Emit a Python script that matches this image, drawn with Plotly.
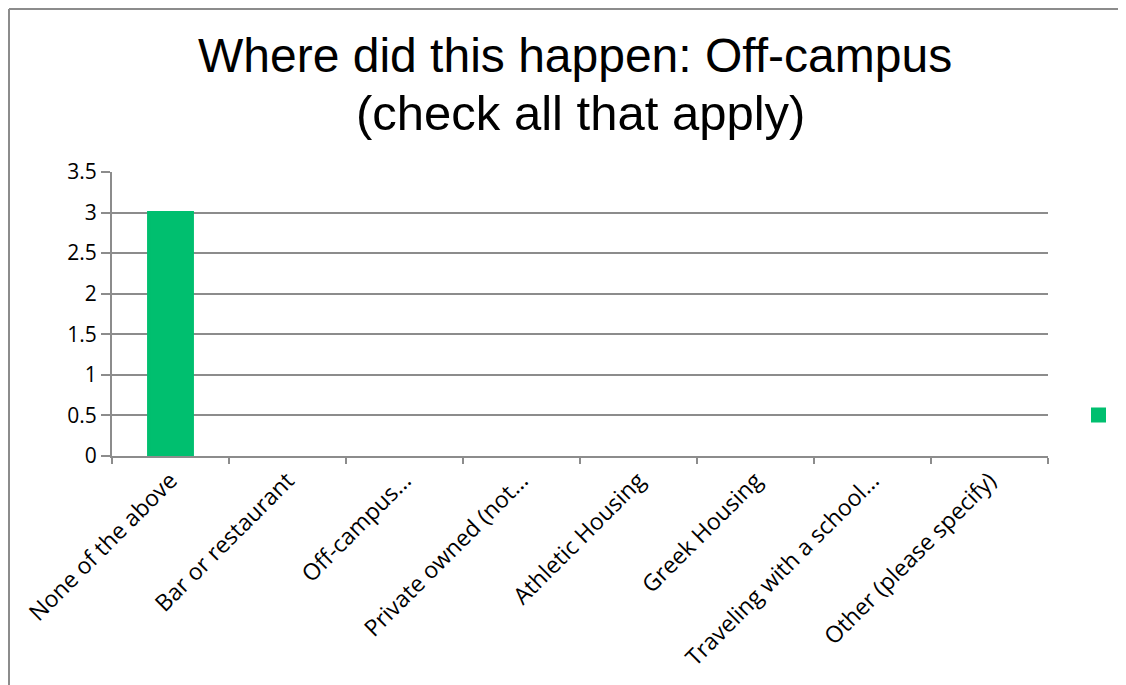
import plotly.graph_objects as go

categories = ["None of the above", "Bar or restaurant", "Off-campus...", "Private owned (not...",
              "Athletic Housing", "Greek Housing", "Traveling with a school...", "Other (please specify)"]
values = [3, 0, 0, 0, 0, 0, 0, 0]
y_ticks = [0, 0.5, 1, 1.5, 2, 2.5, 3, 3.5]
y_tick_text = ["0", "0.5", "1", "1.5", "2", "2.5", "3", "3.5"]

OFF = 8  # page body margin
W, H = 1126 - OFF, 685 - OFF
# plot area in page pixels
PL, PR, PT, PB = 112, 1048, 172, 456
L, R, T, B = PL - OFF, PR - OFF, PT - OFF, PB - OFF
pw, ph = R - L, B - T


def px(x):  # page x -> paper
    return (x - OFF - L) / pw


def py(y):  # page y -> paper
    return (B - (y - OFF)) / ph


grey = "#8c8c8c"
green = "#00BF6F"
outline = [3 if v > 0 else 0 for v in values]

fig = go.Figure()
fig.add_trace(go.Bar(x=categories, y=values,
                     marker=dict(color=green, line=dict(color=green, width=outline)),
                     width=0.375, name="", showlegend=True))

fig.update_layout(
    width=W, height=H,
    margin=dict(l=L, r=W - R, t=T, b=H - B, autoexpand=False),
    paper_bgcolor="white", plot_bgcolor="white",
    font=dict(family="Open Sans, sans-serif", color="black"),
    legend=dict(x=px(1078.5), y=py(415), xanchor="left", yanchor="middle",
                bgcolor="rgba(0,0,0,0)", font=dict(size=1), itemwidth=30),
    xaxis=dict(showline=True, linecolor=grey, linewidth=2, ticks="outside",
               tickson="boundaries", ticklen=6, tickcolor=grey, tickwidth=2,
               tickangle=-45, tickfont=dict(size=23), showgrid=False),
    yaxis=dict(range=[0, 3.5], tickvals=y_ticks, ticktext=y_tick_text,
               showline=True, linecolor=grey, linewidth=2, ticks="outside",
               ticklen=9, tickcolor=grey, tickwidth=2, gridcolor=grey, gridwidth=1.5,
               tickfont=dict(size=21), zeroline=False),
    shapes=[
        dict(type="line", xref="paper", yref="paper", x0=px(9), x1=px(9), y0=py(9), y1=py(700),
             line=dict(color=grey, width=2)),
        dict(type="line", xref="paper", yref="paper", x0=px(9), x1=px(1140), y0=py(9), y1=py(9),
             line=dict(color=grey, width=2)),
    ],
    annotations=[
        dict(text="Where did this happen: Off-campus", xref="paper", yref="paper",
             x=px(575), y=py(55), xanchor="center", yanchor="middle", showarrow=False,
             font=dict(family="Liberation Sans, Arial", size=48, color="black")),
        dict(text="(check all that apply)", xref="paper", yref="paper",
             x=px(580), y=py(113), xanchor="center", yanchor="middle", showarrow=False,
             font=dict(family="Liberation Sans, Arial", size=49, color="black")),
        dict(text="<b>Skipped</b>", xref="paper", yref="paper", x=px(990), y=py(10),
             xanchor="center", yanchor="bottom", showarrow=False,
             font=dict(family="Liberation Sans, Arial", size=22, color="#222222")),
    ],
)

fig.write_html("out.html")
